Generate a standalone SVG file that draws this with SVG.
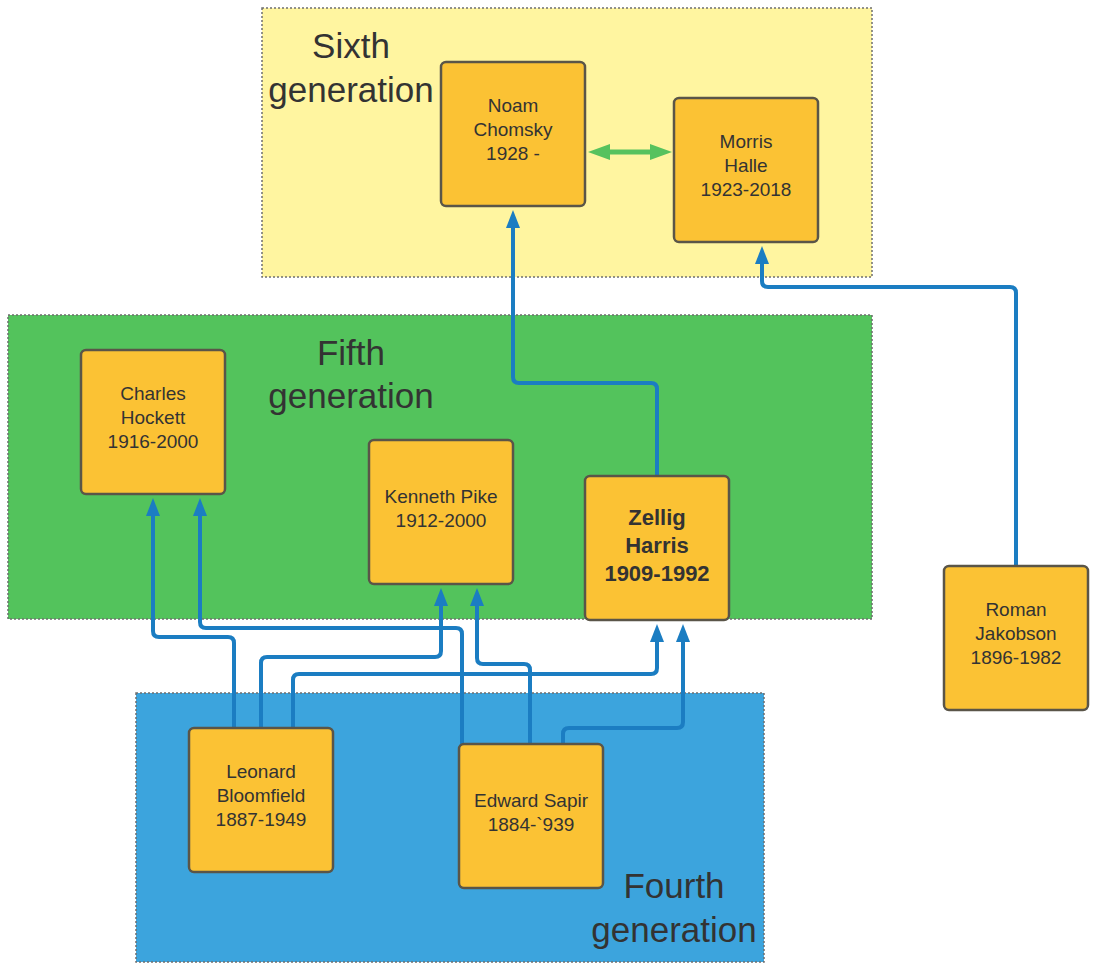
<svg xmlns="http://www.w3.org/2000/svg" width="1094" height="972" viewBox="0 0 1094 972">
<style>
.grp{stroke:#6f6f6f;stroke-width:1.5;stroke-dasharray:2 2}
.glabel{font-family:"Liberation Sans",Arial,sans-serif;font-size:35px;fill:#333;text-anchor:middle}
.box{fill:#fbc234;stroke:#5a5548;stroke-width:2.5}
.t{font-family:"Liberation Sans",Arial,sans-serif;font-size:19px;fill:#333;text-anchor:middle}
.tb{font-family:"Liberation Sans",Arial,sans-serif;font-size:22px;font-weight:bold;fill:#333;text-anchor:middle}
.conn{fill:none;stroke:#1b7dc2;stroke-width:4;marker-end:url(#ah)}
.dbl{fill:none;stroke:#57c25e;stroke-width:5;marker-start:url(#gh);marker-end:url(#gh)}
</style>
<defs>
<marker id="ah" markerUnits="userSpaceOnUse" markerWidth="18" markerHeight="14" viewBox="0 0 18 14" refX="1" refY="7" orient="auto"><path d="M0,0 L18,7 L0,14 z" fill="#1b7dc2"/></marker>
<marker id="gh" markerUnits="userSpaceOnUse" markerWidth="22" markerHeight="16" viewBox="0 0 22 16" refX="1" refY="8" orient="auto-start-reverse"><path d="M0,0 L22,8 L0,16 z" fill="#57c25e"/></marker>
</defs>
<rect width="1094" height="972" fill="#ffffff"/>
<g id="sixth-generation">
<rect class="grp" x="262" y="8" width="610" height="269" fill="#fff5a0"/>
<text class="glabel" x="351" y="58">Sixth</text>
<text class="glabel" x="351" y="102">generation</text>
</g>
<g id="fifth-generation">
<rect class="grp" x="8" y="315" width="864" height="304" fill="#53c35c"/>
<text class="glabel" x="351" y="365">Fifth</text>
<text class="glabel" x="351" y="408">generation</text>
</g>
<g id="fourth-generation">
<rect class="grp" x="136" y="693" width="628" height="269" fill="#3ca4dd"/>
<text class="glabel" x="674" y="898">Fourth</text>
<text class="glabel" x="674" y="942">generation</text>
</g>
<g id="connectors">
<path class="conn" d="M657,476 V389 Q657,383 651,383 H519 Q513,383 513,377 V227"/>
<path class="conn" d="M1016,566 V293 Q1016,287 1010,287 H768 Q762,287 762,281 V263"/>
<path class="conn" d="M234,728 V643 Q234,637 228,637 H159 Q153,637 153,631 V515"/>
<path class="conn" d="M261,728 V663 Q261,657 267,657 H435 Q441,657 441,651 V605"/>
<path class="conn" d="M293,728 V680 Q293,674 299,674 H651 Q657,674 657,668 V641"/>
<path class="conn" d="M462,744 V634 Q462,628 456,628 H206 Q200,628 200,622 V515"/>
<path class="conn" d="M530,744 V670 Q530,664 524,664 H483 Q477,664 477,658 V605"/>
<path class="conn" d="M563,744 V734 Q563,728 569,728 H677 Q683,728 683,722 V641"/>
<path class="dbl" d="M609,152 H651"/>
</g>
<g id="noam-chomsky">
<rect class="box" x="441" y="62" width="144" height="144" rx="5"/>
<text class="t" x="513" y="112">Noam</text>
<text class="t" x="513" y="136">Chomsky</text>
<text class="t" x="513" y="160">1928 -</text>
</g>
<g id="morris-halle">
<rect class="box" x="674" y="98" width="144" height="144" rx="5"/>
<text class="t" x="746" y="148">Morris</text>
<text class="t" x="746" y="172">Halle</text>
<text class="t" x="746" y="196">1923-2018</text>
</g>
<g id="charles-hockett">
<rect class="box" x="81" y="350" width="144" height="144" rx="5"/>
<text class="t" x="153" y="400">Charles</text>
<text class="t" x="153" y="424">Hockett</text>
<text class="t" x="153" y="448">1916-2000</text>
</g>
<g id="kenneth-pike">
<rect class="box" x="369" y="440" width="144" height="144" rx="5"/>
<text class="t" x="441" y="503">Kenneth Pike</text>
<text class="t" x="441" y="527">1912-2000</text>
</g>
<g id="zellig-harris">
<rect class="box" x="585" y="476" width="144" height="144" rx="5"/>
<text class="tb" x="657" y="525">Zellig</text>
<text class="tb" x="657" y="553">Harris</text>
<text class="tb" x="657" y="581">1909-1992</text>
</g>
<g id="roman-jakobson">
<rect class="box" x="944" y="566" width="144" height="144" rx="5"/>
<text class="t" x="1016" y="616">Roman</text>
<text class="t" x="1016" y="640">Jakobson</text>
<text class="t" x="1016" y="664">1896-1982</text>
</g>
<g id="leonard-bloomfield">
<rect class="box" x="189" y="728" width="144" height="144" rx="5"/>
<text class="t" x="261" y="778">Leonard</text>
<text class="t" x="261" y="802">Bloomfield</text>
<text class="t" x="261" y="826">1887-1949</text>
</g>
<g id="edward-sapir">
<rect class="box" x="459" y="744" width="144" height="144" rx="5"/>
<text class="t" x="531" y="807">Edward Sapir</text>
<text class="t" x="531" y="831">1884-`939</text>
</g>
</svg>
